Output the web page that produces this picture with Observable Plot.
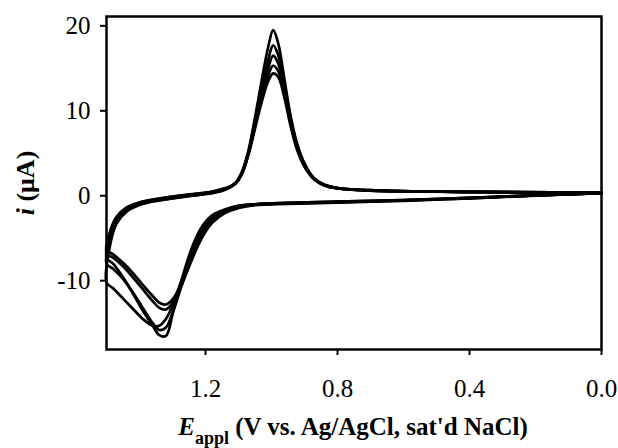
<!DOCTYPE html>
<html><head><meta charset="utf-8">
<script src="https://cdn.jsdelivr.net/npm/d3@7"></script>
<script src="https://cdn.jsdelivr.net/npm/@observablehq/plot@0.6"></script>
<style>body{margin:0;background:#fff} svg text{font-family:'Liberation Serif','Times New Roman',serif !important}</style>
</head><body><div id="chart"></div>
<script>
// Forward (positive-going) scan potentials, V
const eForward = [0.00, 0.20, 0.40, 0.60, 0.80, 0.95, 1.05, 1.10, 1.14, 1.18, 1.21, 1.24, 1.27, 1.30, 1.32, 1.34, 1.36, 1.39, 1.42, 1.45, 1.48, 1.50];
// Forward scan currents, µA, per cycle
const iForward1 = [0.3, 0.05, -0.25, -0.5, -0.7, -0.85, -1.0, -1.2, -1.6, -2.3, -3.6, -6.0, -9.6, -14.0, -16.5, -16.4, -15.3, -13.5, -11.5, -9.6, -8.0, -7.3];
const iForward2 = [0.3, 0.05, -0.25, -0.55, -0.75, -0.9, -1.05, -1.3, -1.8, -2.8, -4.3, -6.8, -10.3, -13.8, -15.5, -15.8, -15.0, -13.2, -11.4, -9.8, -8.6, -8.0];
const iForward3 = [0.3, 0.0, -0.3, -0.6, -0.8, -0.95, -1.1, -1.45, -2.0, -3.2, -4.9, -7.4, -10.3, -13.0, -14.5, -15.3, -15.3, -14.5, -13.3, -12.1, -10.9, -10.2];
const iForward4 = [0.3, 0.05, -0.25, -0.5, -0.7, -0.85, -1.0, -1.2, -1.7, -2.6, -4.1, -6.5, -9.7, -12.6, -13.4, -13.2, -12.4, -11.0, -9.6, -8.3, -7.3, -6.8];
const iForward5 = [0.3, 0.05, -0.3, -0.55, -0.75, -0.9, -1.05, -1.35, -1.9, -3.0, -4.7, -7.2, -10.2, -12.2, -12.8, -12.6, -11.8, -10.5, -9.1, -7.9, -6.9, -6.4];
// Reverse (negative-going) scan potentials, V
const eReverse = [1.49, 1.47, 1.44, 1.40, 1.35, 1.30, 1.24, 1.18, 1.14, 1.11, 1.09, 1.07, 1.05, 1.03, 1.01, 0.995, 0.98, 0.96, 0.945, 0.925, 0.90, 0.87, 0.84, 0.80, 0.70, 0.55, 0.35, 0.15, 0.00];
const iReverse1 = [-4.8, -2.8, -1.6, -0.9, -0.5, -0.2, 0.1, 0.4, 0.8, 1.5, 2.8, 5.3, 9.2, 13.5, 17.5, 19.5, 18.0, 13.5, 10.0, 6.5, 3.8, 2.0, 1.3, 0.9, 0.65, 0.5, 0.45, 0.4, 0.4];
const iReverse2 = [-5.2, -3.0, -1.7, -1.0, -0.6, -0.3, 0.0, 0.35, 0.75, 1.45, 2.7, 5.1, 8.8, 12.6, 16.0, 17.7, 16.6, 12.8, 9.6, 6.3, 3.7, 2.0, 1.3, 0.9, 0.65, 0.5, 0.45, 0.4, 0.35];
const iReverse3 = [-6.0, -3.3, -1.9, -1.1, -0.6, -0.3, 0.0, 0.3, 0.7, 1.4, 2.6, 5.0, 8.5, 12.0, 15.0, 16.5, 15.6, 12.3, 9.3, 6.1, 3.6, 2.0, 1.3, 0.9, 0.6, 0.5, 0.4, 0.35, 0.35];
const iReverse4 = [-4.5, -2.6, -1.5, -0.8, -0.4, -0.1, 0.15, 0.45, 0.85, 1.45, 2.6, 4.9, 8.2, 11.5, 14.2, 15.3, 14.7, 11.8, 9.0, 5.9, 3.5, 1.9, 1.2, 0.85, 0.6, 0.5, 0.45, 0.4, 0.4];
const iReverse5 = [-4.3, -2.5, -1.4, -0.8, -0.4, -0.1, 0.2, 0.5, 0.9, 1.4, 2.5, 4.8, 7.9, 11.0, 13.5, 14.4, 14.0, 11.4, 8.7, 5.7, 3.4, 1.9, 1.2, 0.85, 0.6, 0.5, 0.45, 0.4, 0.4];
// Tick values
const xTicks = [1.2, 0.8, 0.4, 0.0];
const yTicks = [-10, 0, 10, 20];

const cycles = [
  [iForward1, iReverse1], [iForward2, iReverse2], [iForward3, iReverse3],
  [iForward4, iReverse4], [iForward5, iReverse5]
];
const rows = cycles.flatMap(([f, r], k) => [
  ...eForward.map((e, j) => ({cycle: k, E: e, i: f[j]})),
  ...eReverse.map((e, j) => ({cycle: k, E: e, i: r[j]}))
]);

const font = "'Liberation Serif', 'Times New Roman', serif";
const plot = Plot.plot({
  width: 618, height: 448,
  marginLeft: 106, marginRight: 17, marginTop: 16, marginBottom: 99,
  style: {fontFamily: font, background: "#fff", color: "#000"},
  x: {domain: [1.5, 0], label: null},
  y: {domain: [-18.1, 21.1], label: null},
  marks: [
    Plot.line(rows, {x: "E", y: "i", z: "cycle", stroke: "#000", strokeWidth: 2.7, curve: "catmull-rom"}),
    Plot.frame({stroke: "#000", strokeWidth: 2.5}),
    Plot.axisX({ticks: xTicks, tickFormat: d3.format(".1f"), tickSize: 6, tickPadding: 24, fontSize: 25, fontFamily: font, strokeWidth: 2, label: null}),
    Plot.axisY({ticks: yTicks, tickFormat: d => String(d), tickSize: 6, tickPadding: 10, fontSize: 25, fontFamily: font, strokeWidth: 2, label: null})
  ]
});

const svg = d3.select(plot);
svg.selectAll("text").attr("font-family", font).style("font-variant", "normal");
const t = svg.append("text")
  .attr("x", 353).attr("y", 435)
  .attr("text-anchor", "middle")
  .attr("font-family", font).attr("font-size", 25).attr("font-weight", "bold").attr("fill", "#000");
t.append("tspan").attr("font-style", "italic").text("E");
t.append("tspan").attr("font-size", 18).attr("dy", 9).text("appl");
t.append("tspan").attr("dy", -9).text(" (V vs. Ag/AgCl, sat'd NaCl)");

const yl = svg.append("text")
  .attr("transform", "translate(34,183) rotate(-90)")
  .attr("text-anchor", "middle")
  .attr("font-family", font).attr("font-size", 26).attr("font-weight", "bold").attr("fill", "#000");
yl.append("tspan").attr("font-style", "italic").text("i");
yl.append("tspan").text(" (\u03BCA)");

document.getElementById("chart").appendChild(plot);
</script>
</body></html>
